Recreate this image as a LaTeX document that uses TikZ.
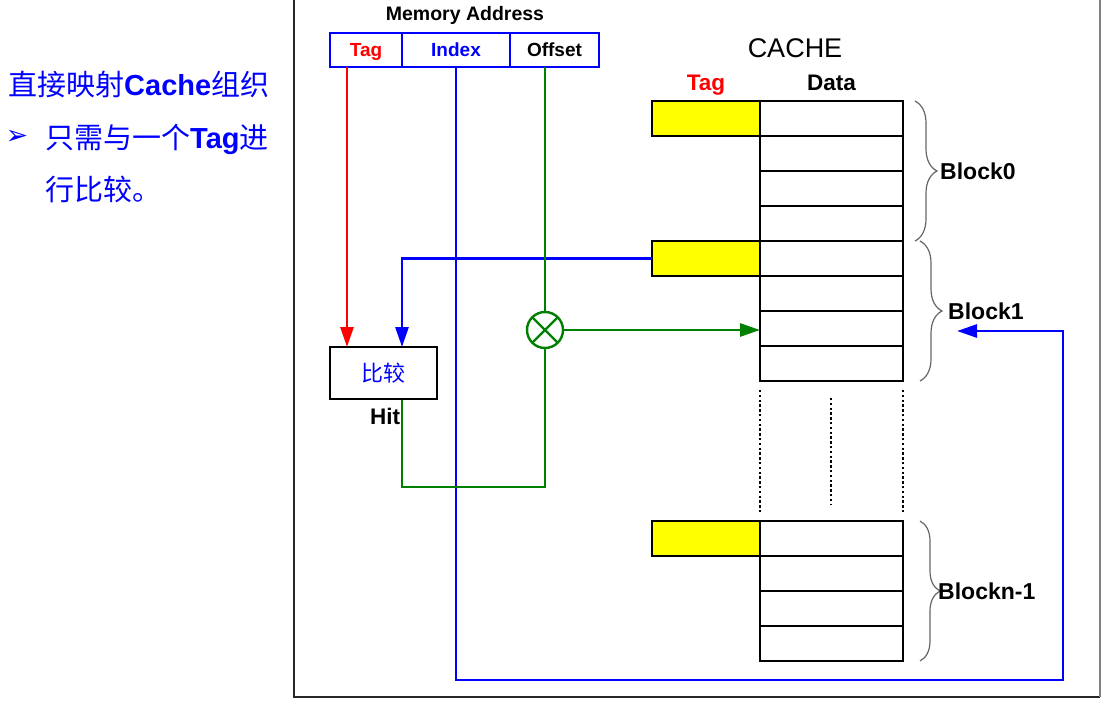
\documentclass[tikz,border=0pt]{standalone}
\usepackage{fontspec}
\setmainfont{Liberation Sans}
\newfontfamily\cjk{Noto Sans CJK SC}
\newfontfamily\symfont{DejaVu Sans}
\usetikzlibrary{arrows.meta,decorations.pathreplacing}
\definecolor{pblue}{RGB}{0,0,255}
\definecolor{pred}{RGB}{255,0,0}
\definecolor{pgreen}{RGB}{0,128,0}
\definecolor{pyellow}{RGB}{255,255,0}
\tikzset{
  field/.style={draw=pblue,line width=2.6pt,minimum height=34pt,inner sep=0pt,outer sep=0pt,
    text height=13.6pt,text depth=0pt,font=\fontsize{19}{22}\selectfont\bfseries},
  tagcell/.style={draw=black,fill=pyellow,line width=2.8pt,minimum width=108pt,minimum height=35pt,inner sep=0pt,outer sep=0pt},
  datacell/.style={draw=black,fill=white,line width=2.8pt,minimum width=143pt,minimum height=35pt,inner sep=0pt,outer sep=0pt},
  lbl/.style={font=\fontsize{22.5}{26}\selectfont\bfseries,inner sep=0pt,anchor=base},
  blocklbl/.style={font=\fontsize{23}{26}\selectfont\bfseries,inner sep=0pt,anchor=base west},
  wire/.style={line width=2.8pt},
  tip/.style={-{Triangle[length=20pt,width=13pt]}},
  bracestyle/.style={draw=black!60,line width=1.2pt,decorate},
  dots/.style={line width=2.6pt,dash pattern=on 2.4pt off 2.4pt},
  headtext/.style={font=\fontsize{29}{34}\selectfont,text=pblue,inner sep=0pt,anchor=base west},
}
\begin{document}
\begin{tikzpicture}[x=1pt,y=-1pt]
\useasboundingbox[fill=white] (0,0) rectangle (1113,706);

% frame around the schematic
\draw[black!85,line width=1.4pt] (294,0) -- (294,697) -- (1100,697);
\draw[gray,line width=1.4pt] (1100,697) -- (1100,0);

% heading text on the left
\node[headtext] (h1) at (8,96) {{\cjk 直接映射}\textbf{Cache}{\cjk 组织}};
\node[text=pblue,font=\symfont\fontsize{27}{30}\selectfont,inner sep=0pt] (bul) at (17,137) {➢};
\node[headtext] (h2) at (45,148) {{\cjk 只需与一个}\textbf{Tag}{\cjk 进}};
\node[headtext] (h3) at (45,200) {{\cjk 行比较。}};

% memory address fields
\node[font=\fontsize{19.5}{22}\selectfont\bfseries,inner sep=0pt,anchor=base] (ma) at (465,21) {Memory Address};
\node[field,minimum width=72pt,text=pred] (tagf) at (366,50) {Tag};
\node[field,minimum width=108pt,text=pblue] (idxf) at (456,50) {Index};
\node[field,minimum width=89pt] (offf) at (554.5,50) {Offset};

% cache headers
\node[font=\fontsize{27}{30}\selectfont,inner sep=0pt,anchor=base] (cachet) at (795,58) {CACHE};
\node[lbl,text=pred] (tagh) at (706,91) {Tag};
\node[lbl] (datah) at (831.5,91) {Data};

% cache lines: one tag cell and four data rows per block
\foreach \blk/\top in {0/101,1/241,2/521}{
  \node[tagcell] (tag\blk) at (706,\top+17.5) {};
  \foreach \r in {0,...,3}
    \node[datacell] (d\blk\r) at (831.5,\top+17.5+35*\r) {};
}

% elided blocks
\draw[dots] (760,390) -- (760,512);
\draw[dots] (831,398) -- (831,505);
\draw[dots] (903,390) -- (903,512);

% block braces and labels
\draw[bracestyle,decoration={brace,amplitude=22pt}] (915,101) -- (915,241);
\draw[bracestyle,decoration={brace,amplitude=22pt}] (920,241) -- (920,381);
\draw[bracestyle,decoration={brace,amplitude=20pt}] (920,521) -- (920,661);
\node[blocklbl] (b0) at (940,179) {Block0};
\node[blocklbl] (b1) at (948,319) {Block1};
\node[blocklbl] (bn) at (938,599) {Blockn-1};

% comparator and hit output
\node[draw=black,line width=2.8pt,minimum width=107pt,minimum height=52pt,inner sep=0pt,
  text=pblue,font=\cjk\fontsize{22}{24}\selectfont] (cmp) at (383.5,373) {比较};
\node[lbl] (hit) at (385,424) {Hit};

% offset selector
\node[circle,draw=pgreen,line width=2.4pt,minimum size=36pt,inner sep=0pt,
  path picture={\draw[pgreen,line width=2.4pt]
    (path picture bounding box.north west) -- (path picture bounding box.south east)
    (path picture bounding box.north east) -- (path picture bounding box.south west);}] (mix) at (545,330) {};

\coordinate (rin) at (347,347);
\coordinate (bin) at (402,347);
\coordinate (ir) at (1063,680);
\coordinate (blkin) at (957,331);
\coordinate (hb) at (402,487);

% tag field to comparator
\draw[wire,pred,tip] (tagf.south -| rin) -- (rin);
% stored tag to comparator
\draw[wire,pblue,tip] (tag1.west) -| (bin);
% index selects the block
\draw[wire,pblue,tip] (idxf.south) |- (ir) |- (blkin);
% offset selects the word
\draw[wire,pgreen] (offf.south -| mix.north) -- (mix.north);
\draw[wire,pgreen,tip] (mix.east) -- (d12.west |- mix.east);
\draw[wire,pgreen] (mix.south) |- (hb) -- (cmp.south -| hb);
\end{tikzpicture}
\end{document}
